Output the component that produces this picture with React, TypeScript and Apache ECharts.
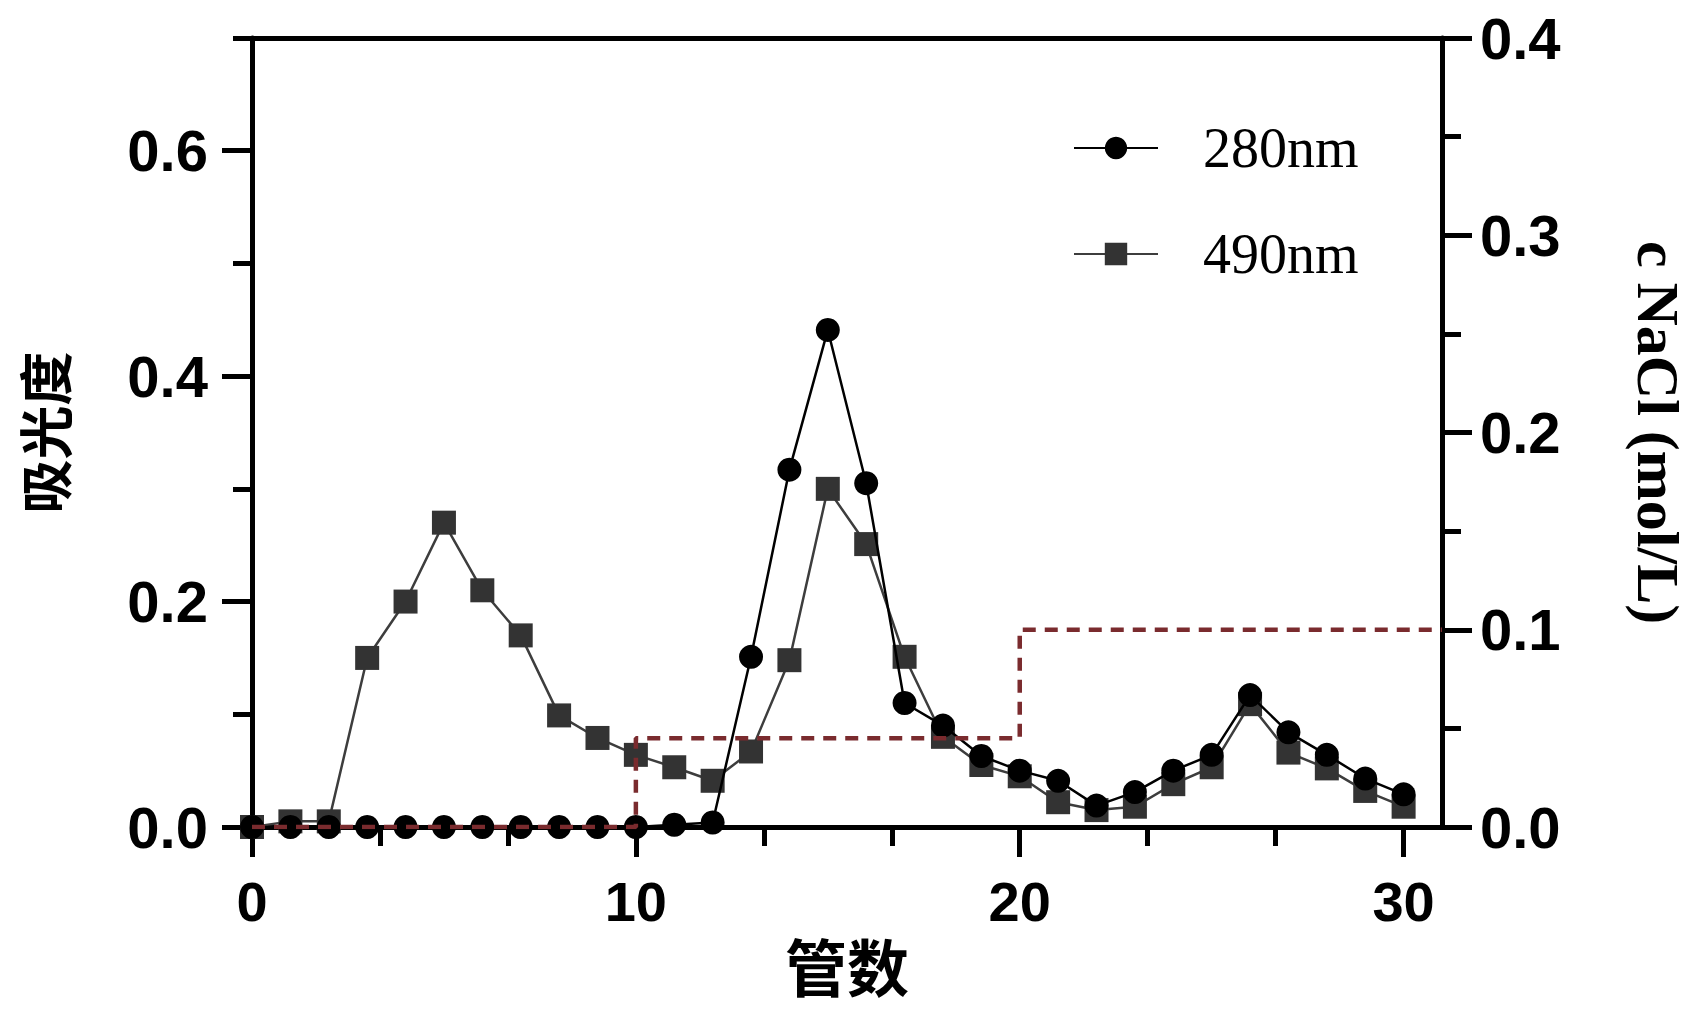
import React, { useEffect, useRef } from "react";
import * as echarts from "echarts";

// Tube numbers (x)
const tubes = [0, 1, 2, 3, 4, 5, 6, 7, 8, 9, 10, 11, 12, 13, 14, 15, 16, 17, 18, 19, 20, 21, 22, 23, 24, 25, 26, 27, 28, 29, 30];
// Absorbance at 280 nm
const abs280 = [0, 0, 0, 0, 0, 0, 0, 0, 0, 0, 0, 0.002, 0.004, 0.151, 0.317, 0.441, 0.305, 0.11, 0.09, 0.063, 0.05, 0.041, 0.019, 0.031, 0.05, 0.064, 0.117, 0.084, 0.064, 0.043, 0.029];
// Absorbance at 490 nm
const abs490 = [0, 0.005, 0.005, 0.15, 0.2, 0.27, 0.21, 0.17, 0.099, 0.079, 0.064, 0.053, 0.041, 0.067, 0.148, 0.3, 0.251, 0.151, 0.08, 0.055, 0.045, 0.022, 0.015, 0.018, 0.038, 0.053, 0.109, 0.066, 0.052, 0.032, 0.018];
// NaCl gradient (step breakpoints)
const naclTubes = [0, 10, 20, 31];
const naclConc = [0, 0.045, 0.1, 0.1];

// Axis ticks
const xMajorTicks = [0, 10, 20, 30];
const xMinorTicks = [10 / 3, 20 / 3, 40 / 3, 50 / 3, 70 / 3, 80 / 3];
const leftMajorTicks = [0, 0.2, 0.4, 0.6];
const leftMinorTicks = [0.1, 0.3, 0.5, 0.7];

const SANS = "Liberation Sans, Arial, sans-serif";
const SERIF = "Liberation Serif, Times New Roman, serif";
const CJK = "Noto Sans CJK SC, sans-serif";

export default function App() {
  const ref = useRef<HTMLDivElement>(null);

  useEffect(() => {
    if (!ref.current) return;
    const chart = echarts.init(ref.current, undefined, { renderer: "svg" });
    const axisLine = { show: true, onZero: false, lineStyle: { color: "#000", width: 5 } };
    const tickLine = { color: "#000", width: 5 };
    const tickLabel = { color: "#000", fontFamily: SANS, fontWeight: "bold", fontSize: 58 };

    const option: any = {
      animation: false,
      backgroundColor: "#fff",
      grid: { left: 252, right: 254, top: 38, bottom: 188, containLabel: false },
      legend: {
        data: ["280nm", "490nm"],
        orient: "vertical",
        left: 1073,
        top: 120,
        padding: 0,
        itemWidth: 84,
        itemHeight: 28,
        itemGap: 50,
        textStyle: { fontFamily: SERIF, fontSize: 56, color: "#000", padding: [0, 0, 0, 40] },
      },
      xAxis: [
        {
          type: "value",
          min: 0,
          max: 31,
          position: "bottom",
          axisLine,
          axisTick: { show: true, length: 30, customValues: xMajorTicks, lineStyle: tickLine },
          axisLabel: { ...tickLabel, fontSize: 56, customValues: xMajorTicks, margin: 46 },
          splitLine: { show: false },
          name: "管数",
          nameLocation: "middle",
          nameGap: 100,
          nameTextStyle: { fontFamily: CJK, fontWeight: "bold", fontSize: 62, color: "#000" },
        },
        {
          type: "value",
          min: 0,
          max: 31,
          position: "bottom",
          axisLine: { show: false, onZero: false },
          axisTick: { show: true, length: 19, customValues: xMinorTicks, lineStyle: tickLine },
          axisLabel: { show: false },
          splitLine: { show: false },
        },
        {
          type: "value",
          min: 0,
          max: 31,
          position: "top",
          axisLine,
          axisTick: { show: false },
          axisLabel: { show: false },
          splitLine: { show: false },
        },
      ],
      yAxis: [
        {
          type: "value",
          min: 0,
          max: 0.7,
          position: "left",
          axisLine,
          axisTick: { show: true, length: 30, customValues: leftMajorTicks, lineStyle: tickLine },
          axisLabel: { ...tickLabel, customValues: leftMajorTicks, margin: 44, formatter: (v: number) => v.toFixed(1) },
          splitLine: { show: false },
          name: "吸光度",
          nameLocation: "middle",
          nameGap: 182,
          nameRotate: 90,
          nameTextStyle: { fontFamily: CJK, fontWeight: "bold", fontSize: 54, color: "#000" },
        },
        {
          type: "value",
          min: 0,
          max: 0.7,
          position: "left",
          axisLine: { show: false, onZero: false },
          axisTick: { show: true, length: 19, customValues: leftMinorTicks, lineStyle: tickLine },
          axisLabel: { show: false },
          splitLine: { show: false },
        },
        {
          type: "value",
          min: 0,
          max: 0.4,
          interval: 0.1,
          position: "right",
          axisLine,
          axisTick: { show: true, length: 30, lineStyle: tickLine },
          minorTick: { show: true, splitNumber: 2, length: 19, lineStyle: tickLine },
          axisLabel: { ...tickLabel, margin: 38, formatter: (v: number) => v.toFixed(1) },
          splitLine: { show: false },
          minorSplitLine: { show: false },
          name: "c NaCl (mol/L)",
          nameLocation: "middle",
          nameGap: 186,
          nameRotate: -90,
          nameTextStyle: { fontFamily: SERIF, fontWeight: "bold", fontSize: 60, color: "#000" },
        },
      ],
      series: [
        {
          name: "490nm",
          type: "line",
          xAxisIndex: 0,
          yAxisIndex: 0,
          data: tubes.map((t, i) => [t, abs490[i]]),
          symbol: "rect",
          symbolSize: 24,
          itemStyle: { color: "#333" },
          lineStyle: { color: "#3d3d3d", width: 2.5 },
          z: 2,
        },
        {
          name: "280nm",
          type: "line",
          xAxisIndex: 0,
          yAxisIndex: 0,
          data: tubes.map((t, i) => [t, abs280[i]]),
          symbol: "circle",
          symbolSize: 24,
          itemStyle: { color: "#000" },
          lineStyle: { color: "#000", width: 2.5 },
          z: 3,
        },
        {
          name: "NaCl",
          type: "line",
          xAxisIndex: 0,
          yAxisIndex: 2,
          step: "end",
          data: naclTubes.map((t, i) => [t, naclConc[i]]),
          symbol: "none",
          lineStyle: { color: "#7a2b2e", width: 4.5, type: [13, 9] },
          z: 4,
        },
      ],
    };

    chart.setOption(option);
    return () => chart.dispose();
  }, []);

  return (
    <div
      ref={ref}
      style={{ position: "absolute", left: 0, top: 0, width: 1696, height: 1015, background: "#fff" }}
    />
  );
}
